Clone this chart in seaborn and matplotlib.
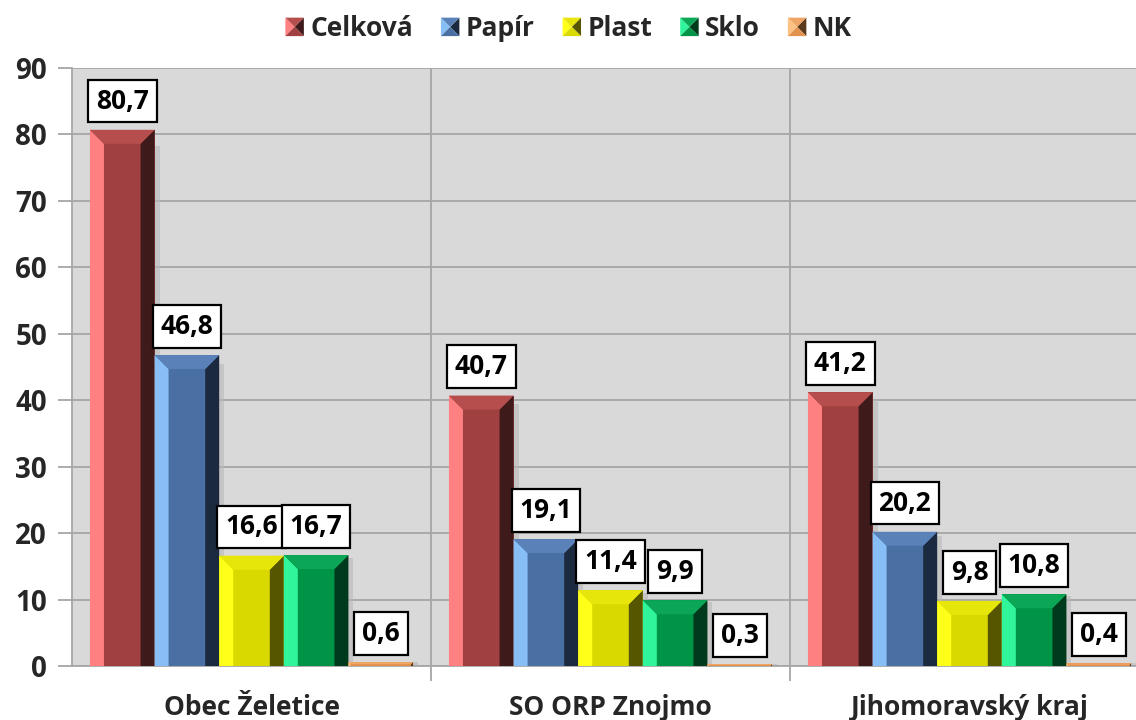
import numpy as np
import pandas as pd
import matplotlib
matplotlib.use("Agg")
import matplotlib.pyplot as plt
import seaborn as sns
from matplotlib.patches import Polygon, Rectangle
from matplotlib.legend_handler import HandlerBase
from matplotlib.ticker import FixedLocator

# data
groups = ["Obec Želetice", "SO ORP Znojmo", "Jihomoravský kraj"]
categories = ["Celková", "Papír", "Plast", "Sklo", "NK"]
celkova = [80.7, 40.7, 41.2]
papir = [46.8, 19.1, 20.2]
plast = [16.6, 11.4, 9.8]
sklo = [16.7, 9.9, 10.8]
nk = [0.6, 0.3, 0.4]

# colours: body, light edge, dark edge, top
body = ["#A04040", "#4A6FA3", "#D9D900", "#009447", "#E2924F"]
light = ["#FF8080", "#86BEF5", "#FFFF1A", "#30F59A", "#FFC283"]
dark = ["#3E1A1A", "#1B2A3F", "#565600", "#003A1C", "#5A391C"]
top = ["#B64E4E", "#5A82B8", "#E6E60A", "#0BA656", "#EFA565"]

values = [celkova, papir, plast, sklo, nk]
df = pd.DataFrame({
    "group": groups * len(categories),
    "cat": np.repeat(categories, len(groups)),
    "value": np.concatenate(values),
})

sns.set_theme(style="white")
plt.rcParams["font.family"] = ["Open Sans", "DejaVu Sans"]
plt.rcParams["font.weight"] = "bold"
FS = 19

fig = plt.figure(figsize=(11.36, 7.2), dpi=100)
ax = fig.add_axes([72 / 1136, 54 / 720, 1 - 72 / 1136, 598 / 720])
ax.set_facecolor("#D9D9D9")

sns.barplot(data=df, x="group", y="value", hue="cat", palette=body,
            width=0.9, gap=0, saturation=1, ax=ax, legend=False,
            edgecolor="none", linewidth=0, zorder=3)

ax.set_ylim(0, 90)
ax.set_xlim(-0.5, -0.5 + (1136 - 72) / 359)

# pixel -> data conversion for bevel sizes
fig.canvas.draw()
inv = ax.transData.inverted()
p0 = inv.transform((0, 0))
p1 = inv.transform((14, 14))
bx, by = p1[0] - p0[0], p1[1] - p0[1]
s1 = inv.transform((5, 5))
sx = s1[0] - p0[0]

for ci, cont in enumerate(ax.containers):
    for bar in cont:
        x, w, h = bar.get_x(), bar.get_width(), bar.get_height()
        b_y = min(by, h / 2)
        b_x = bx * (b_y / by)
        # drop shadow
        ax.add_patch(Rectangle((x + w, 0), sx, h * 0.97,
                               color="#B8B8B8", alpha=0.6, lw=0, zorder=2))
        ax.add_patch(Polygon([(x, 0), (x + b_x, 0), (x + b_x, h - b_y), (x, h)],
                             closed=True, color=light[ci], lw=0, zorder=4))
        ax.add_patch(Polygon([(x + w, 0), (x + w - b_x, 0), (x + w - b_x, h - b_y), (x + w, h)],
                             closed=True, color=dark[ci], lw=0, zorder=4))
        ax.add_patch(Polygon([(x, h), (x + b_x, h - b_y), (x + w - b_x, h - b_y), (x + w, h)],
                             closed=True, color=top[ci], lw=0, zorder=4))
        ax.annotate(f"{h:.1f}".replace(".", ","), (x + w / 2, h),
                    xytext=(0, 11), textcoords="offset points",
                    ha="center", va="bottom", fontsize=FS, fontweight="bold",
                    color="black", zorder=6,
                    bbox=dict(boxstyle="square,pad=0.3", fc="white", ec="black", lw=1.6))

# axes styling
ax.set_yticks(range(0, 91, 10))
ax.yaxis.grid(True, color="#A6A6A6", lw=1.3, zorder=0)
ax.xaxis.set_minor_locator(FixedLocator([0.5, 1.5]))
ax.xaxis.grid(True, which="minor", color="#A6A6A6", lw=1.3, zorder=0)
ax.set_axisbelow(True)
ax.tick_params(axis="y", which="major", length=10, width=1.3, color="#A6A6A6",
               labelsize=FS + 1, pad=8, left=True)
ax.tick_params(axis="x", which="major", length=0, labelsize=FS, pad=20)
ax.tick_params(axis="x", which="minor", length=11, width=1.3, color="#A6A6A6",
               bottom=True, direction="out")
for lab in ax.get_yticklabels() + ax.get_xticklabels():
    lab.set_fontweight("bold")
for sp in ["top", "right"]:
    ax.spines[sp].set_visible(False)
for sp in ["left", "bottom"]:
    ax.spines[sp].set_color("#A6A6A6")
    ax.spines[sp].set_linewidth(1.3)
ax.set_xlabel("")
ax.set_ylabel("")


class BevelHandler(HandlerBase):
    def __init__(self, idx):
        super().__init__()
        self.idx = idx

    def create_artists(self, legend, orig_handle, xdescent, ydescent, width,
                       height, fontsize, trans):
        s = height * 1.0
        x0 = -xdescent + (width - s) / 2
        y0 = -ydescent + (height - s) / 2
        c = (x0 + s / 2, y0 + s / 2)
        i = self.idx
        tris = [
            ([(x0, y0), (x0, y0 + s), c], light[i]),
            ([(x0 + s, y0), (x0 + s, y0 + s), c], dark[i]),
            ([(x0, y0 + s), (x0 + s, y0 + s), c], top[i]),
            ([(x0, y0), (x0 + s, y0), c], body[i]),
        ]
        return [Polygon(pts, closed=True, color=col, lw=0, transform=trans)
                for pts, col in tris]


handles = [Rectangle((0, 0), 1, 1) for _ in categories]
fig.legend(handles, categories, loc="upper center", bbox_to_anchor=(0.5, 1.012),
           ncol=5, frameon=False, handlelength=0.8,
           handletextpad=0.2, columnspacing=1.0,
           handler_map={h: BevelHandler(i) for i, h in enumerate(handles)},
           prop={"weight": "bold", "size": FS})

fig.savefig("out.png", dpi=100)
